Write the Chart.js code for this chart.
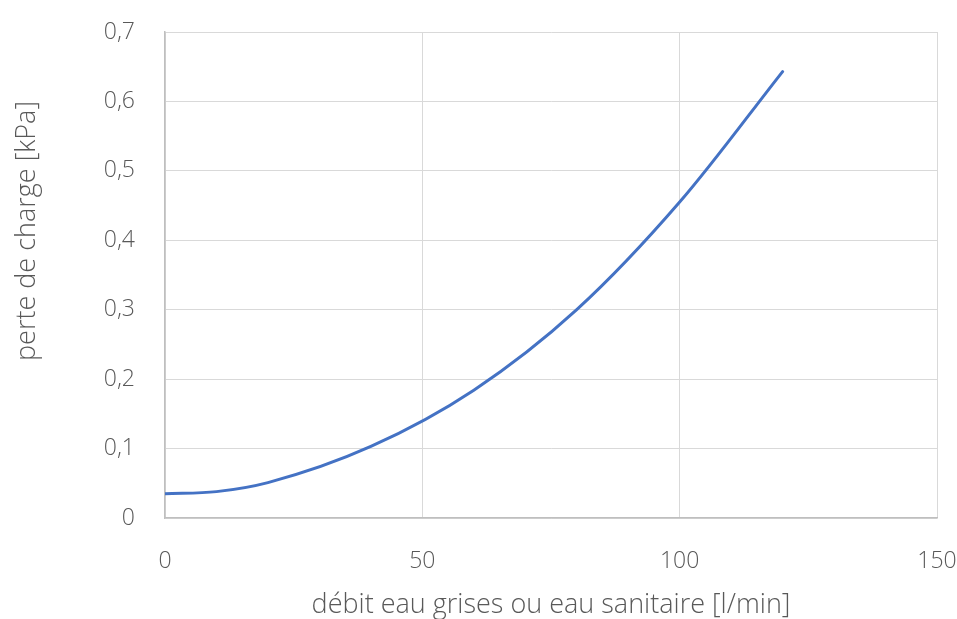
<!DOCTYPE html>
<html>
<head>
<meta charset="utf-8">
<script src="https://cdn.jsdelivr.net/npm/chart.js@4"></script>
<style>
  html, body { margin: 0; padding: 0; background: #fff; }
  #wrap { width: 957px; height: 619px; }
</style>
</head>
<body>
<div id="wrap"><canvas id="perteChart" width="957" height="619"></canvas></div>
<script>
// valeurs
var debit = [0, 10, 20, 40, 60, 80, 100, 120];
var perte = [0.035, 0.038, 0.051, 0.103, 0.184, 0.300, 0.455, 0.643];

var xTicks = [0, 50, 100, 150];
var yTicks = [0, 0.1, 0.2, 0.3, 0.4, 0.5, 0.6, 0.7];

var titreX = 'débit eau grises ou eau sanitaire [l/min]';
var titreY = 'perte de charge [kPa]';

var fonte = '"Open Sans", "Noto Sans", sans-serif';
var gris = '#595959';

function formatVirgule(v) {
    if (v === 0) return '0';
    return v.toFixed(1).replace('.', ',');
}

var points = debit.map(function(x, i) { return { x: x, y: perte[i] }; });

// titre vertical, placé comme dans Excel (pas centré sur la zone de tracé)
var titreVertical = {
    id: 'titreVertical',
    afterDraw: function(chart) {
        var c = chart.ctx;
        c.save();
        c.translate(27, 231);
        c.rotate(-Math.PI / 2);
        c.font = '350 27px ' + fonte;
        c.fillStyle = gris;
        c.textAlign = 'center';
        c.textBaseline = 'middle';
        c.fillText(titreY, 0, 0);
        c.restore();
    }
};

var ctx = document.getElementById('perteChart').getContext('2d');
new Chart(ctx, {
    type: 'line',
    data: {
        datasets: [{
            data: points,
            borderColor: '#4472C4',
            borderWidth: 3,
            borderCapStyle: 'round',
            pointRadius: 0,
            fill: false,
            cubicInterpolationMode: 'monotone'
        }]
    },
    options: {
        responsive: false,
        animation: false,
        layout: { padding: { top: 32, right: 20, bottom: 0, left: 0 } },
        plugins: { legend: { display: false }, tooltip: { enabled: false } },
        scales: {
            x: {
                type: 'linear',
                min: 0,
                max: 150,
                afterBuildTicks: function(axis) {
                    axis.ticks = xTicks.map(function(v) { return { value: v }; });
                },
                afterFit: function(axis) {
                    axis.height = 101;
                    axis.paddingLeft = 0;
                    axis.paddingRight = 0;
                },
                grid: { color: '#d9d9d9', lineWidth: 1, drawTicks: false },
                border: { color: '#bfbfbf', width: 1.5 },
                ticks: { color: gris, font: { family: fonte, size: 23, weight: '350' }, padding: 30, maxRotation: 0 },
                title: {
                    display: true,
                    text: titreX,
                    color: gris,
                    font: { family: fonte, size: 27, weight: '350', lineHeight: 1 },
                    padding: 0
                }
            },
            y: {
                type: 'linear',
                min: 0,
                max: 0.7,
                afterBuildTicks: function(axis) {
                    axis.ticks = yTicks.map(function(v) { return { value: v }; });
                },
                afterFit: function(axis) {
                    axis.width = 165;
                    axis.paddingTop = 0;
                    axis.paddingBottom = 0;
                },
                grid: { color: '#d9d9d9', lineWidth: 1, drawTicks: false },
                border: { color: '#bfbfbf', width: 1.5 },
                ticks: {
                    color: gris,
                    font: { family: fonte, size: 23, weight: '350' },
                    padding: 30,
                    callback: function(v) { return formatVirgule(v); }
                }
            }
        }
    },
    plugins: [titreVertical]
});
</script>
</body>
</html>
